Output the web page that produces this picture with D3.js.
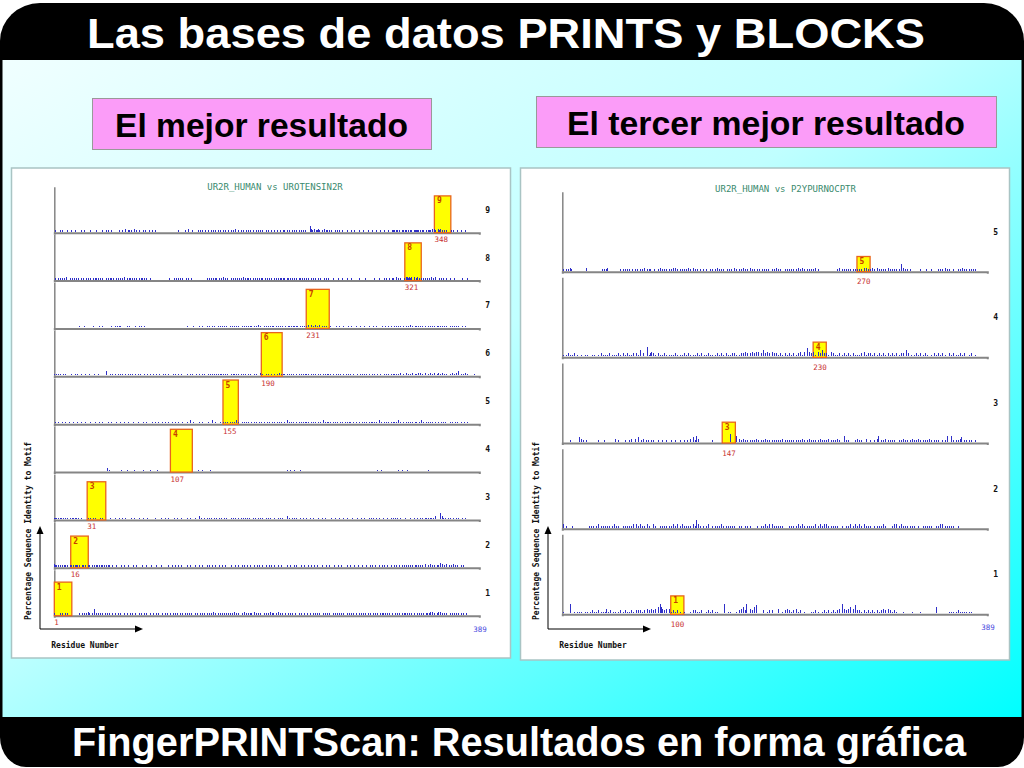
<!DOCTYPE html>
<html>
<head>
<meta charset="utf-8">
<script src="https://cdnjs.cloudflare.com/ajax/libs/d3/7.8.5/d3.min.js"></script>
<style>
  html, body { margin: 0; padding: 0; background: #fff; }
  svg { display: block; }
</style>
</head>
<body>
<svg id="slide" width="1024" height="768"></svg>
<script>
// ---- data ----
const seqLength = 389;

// best result: UR2R_HUMAN vs UROTENSIN2R (motif 1..9)
const leftMotifs  = [1, 2, 3, 4, 5, 6, 7, 8, 9];
const leftStarts  = [1, 16, 31, 107, 155, 190, 231, 321, 348];
const leftLengths = [16, 16, 17, 20, 14, 19, 21, 15, 15];
const leftScores  = [73, 69, 83, 93, 96, 95, 85, 82, 80];

// third best: UR2R_HUMAN vs P2YPURNOCPTR (motif 1..5, motif 2 not found)
const rightMotifs  = [1, 2, 3, 4, 5];
const rightStarts  = [100, null, 147, 230, 270];
const rightLengths = [12, null, 12, 12, 12];
const rightScores  = [23, null, 26, 19, 19];

// background identity per residue, one digit per residue, rows 1..n
// % identity = digit * step
const leftNoiseStep = 3;
const leftNoise = [
  `1000010100 1010000000 0001010101 0210104010 1010101010 1001010010 1000101001 0100100101 0010100100 1001010010
   0101001010 1010010101 0101010010 1001010101 0101020101 0101010101 1010201010 0102010101 1020101010 0101010201
   1010201010 0101010100 1001010010 0101001010 1010010101 0100101010 1010100101 0101010010 1010101010 0101010101
   1010101010 0101010101 1010101010 0101010101 1012020101 2020101010 0101010101 0101001000 000000000`,
  `2111010101 1010110101 1101011010 0110101011 0101110101 1001001000 0100100100 0010010000 1000100010 0001000100
   0000100100 1001001000 0100100010 0010010001 0100100100 1001001000 0100010010 0101001001 0010010100 1001001010
   0100100100 0010010001 0100010010 0010100100 1000100010 0100010001 0010000100 1000100100 0100010010 1001001001
   0100100100 1010010101 0101010101 1010101020 0102010101 1030201020 1010201010 0101000000 000000000`,
  `1111011010 1010101101 1010100000 0101010100 0010100000 0100010001 0010010000 1001000100 0100010000 0010000100
   0100100001 0010001000 0100100010 0020100101 0101001010 1010010100 0101010010 1010101010 0101001010 1001010100
   0100101010 0020100101 0100100100 1001001000 0100100100 0001001000 1000100100 0010001000 1001000101 0100101000
   1000100101 0101001000 1000010010 0100101011 0101101020 0040210101 0100100101 0010010000 000000000`,
  `0000000000 0000000000 0000000000 0000000000 0000000020 1000000000 0100001000 0001000000 0100000100 0000100000
   0000000000 0000000000 0000000000 0100010000 0010000000 0000000000 0000000000 0000000000 0000000000 0000000000
   0000000000 0010010001 0000100000 0000000000 0000000000 0000000000 0000000000 0000000000 0000000000 0000010010
   0000000000 0000100100 0010000000 0000000000 0100000000 0000000000 0000000000 0000000000 000000000`,
  `0101000100 1001000100 0100100010 0001000100 0100100001 0010001000 1000100100 0010001000 0100100001 0010010010
   0100100100 1001000100 0100200100 0010010000 1000200100 0100101010 1010102010 0101010100 1010100101 0100101001
   0101010100 1020101010 0101010101 1010101010 0101020101 1010101010 0101010101 1001010010 0101010101 1010102010
   0101010101 1010201010 0101010101 1001020101 0101010010 1001010100 0101001010 0100100100 000000000`,
  `1011010010 1000010001 0100100010 0010001000 1000000300 0101010010 1010010101 0100101010 0010010100 1001001001
   0100100010 1001001000 0100101001 0010010100 1010101011 0110101010 0101101010 1010100101 0010100020 1001010010
   0101020101 1010101010 0101010101 1010101010 0101010101 1010100101 0100101010 1001001001 0101010100 1010010100
   0101010101 1010102010 0201010201 1020201020 0102010201 2010201010 0102010203 0101020100 000100000`,
  `0000000000 0000000000 0001000100 0000010000 0100100000 0010010101 1000001010 0000100101 0010000000 0000000000
   0000000000 0000000000 0100000100 0010010001 0100101001 0101010100 1010101010 0101010101 1010102010 0101010101
   1010101010 0101101011 0110101010 1020201020 1020101010 0010000100 1000100010 0100010001 0001000100 0100100001
   0010010100 1010101010 0101020101 1010101010 0101010101 1010101010 0101010101 0010010000 000000000`,
  `0101010101 0200101010 1010101001 0101010110 1010100101 0110101010 1010201011 0101010101 1010100100 0000000000
   0000010001 0101010100 1010010000 0000000001 0101010110 1010201010 0101010101 1020101101 0101010101 1010101010
   0110101101 1011010101 0101101010 1010101010 0101001010 1000100001 0001000100 0100000010 0000100000 0010001000
   0101001011 0020101001 0221212020 1201010110 1010201020 0101010010 0100010000 0010000100 000000000`,
  `0100010100 0010010001 0000100100 0001000010 0000100101 0010000001 0010020110 1002010100 0101001001 0010000000
   0000000000 0001000001 0020001000 0101010010 1001010101 0100101001 0101020010 1010010101 0100101010 1001010010
   0101001001 1010100101 0101010101 0004210201 1210102011 0101001010 1001000100 0100100010 0010001000 1000100100
   0100010011 1011010110 1101011011 1110101101 0111020210 2120101010 0010100010 0100010000 000000000`
];

const rightNoiseStep = 2;
const rightNoise = [
  `0100000600 0101010100 0101010201 0102010101 3010201010 0102010201 0102010202 0201020302 0302030406 4302030301
   0201020100 0100000102 0201010200 0102010201 0100000060 0101000001 0203040260 0302040500 0002000102 0200000300
   0102030201 0203010200 0100000101 0201000102 0102010201 0203060302 0304030502 0201020102 0102010201 0203020302
   0102010000 0100000001 0000000100 0000000000 0400000000 0001010101 0201010101 0101000000 000000000`,
  `0201000001 0000000000 0000101010 0102010101 0101010201 0100010101 0101020201 0201010201 0002010001 0101010101
   0201020102 0101010102 0150201010 0102000101 0101020101 0101010100 0101000101 0100000010 0101020102 0201010101
   0100000101 0101020102 0101010101 0201020102 0201010101 0100010001 0102010201 0201020101 0100010101 0102010000
   0102020102 0101010101 0100010001 0101010100 0101020201 0101010100 0100000000 0000000000 000000000`,
  `0000000100 0000030201 0010000000 0001000010 0000000020 0100000100 0102002003 0010201010 0101000100 0100010001
   0001000100 0100100203 0140200000 0000000100 0000000000 0005000004 0201020101 0101010201 0101020101 0101010101
   0201010101 0101010102 0101020101 0101020101 0102010101 0201000401 0100000102 0101000200 0100010240 0101020101
   0101000101 0201010102 0101020101 0101020101 0101000101 0400040101 0102300101 0101000100 000000000`,
  `0101020101 0201000100 0101000101 0001020101 0102010101 0201020102 0101020201 0400200601 2302010201 0102010101
   0102010101 0201020101 0102010201 0102010101 0201020102 0101020201 0102020302 0203020303 0204020302 0302020102
   0102010201 0201020301 0305030203 0103020402 0201030201 0102010201 0201020101 0102030102 0201020102 0102010201
   0201020102 0200402010 0102010201 0201000102 0102010201 0002010201 0102010200 0102000100 000000000`,
  `0101010210 0000000000 0020000000 0000001010 1200000000 0001010101 0100101010 0101020101 1000100102 0101010101
   0202010101 0101020102 0101001010 0100010101 0201010100 1010100201 0101020101 0201010010 1010101010 0101020101
   0001010101 0101020102 0101010101 0201000000 0000000000 0102010101 0101010101 0101020201 0102010201 0101010201
   0101010104 0201010100 0000000100 0010000100 0001010102 0101000100 0101020101 0101010100 000000000`
];

const parseNoise = s => s.replace(/\s+/g, '').split('').slice(0, seqLength).map(Number);

// ---- slide frame ----
const svg = d3.select('#slide');
const defs = svg.append('defs');
const grad = defs.append('linearGradient')
    .attr('id', 'bg').attr('x1', 0).attr('y1', 0).attr('x2', 1).attr('y2', 1);
grad.append('stop').attr('offset', 0).attr('stop-color', '#f0ffff');
grad.append('stop').attr('offset', 0.45).attr('stop-color', '#c0ffff');
grad.append('stop').attr('offset', 1).attr('stop-color', '#00ffff');

// black frame: rounder corners at the top than at the bottom
svg.append('rect')
    .attr('x', 0).attr('y', 3).attr('width', 1024).attr('height', 700)
    .attr('rx', 40).attr('ry', 38)
    .attr('fill', '#000');
svg.append('rect')
    .attr('x', 0).attr('y', 100).attr('width', 1024).attr('height', 667)
    .attr('rx', 26).attr('ry', 30)
    .attr('fill', '#000');

svg.append('rect')
    .attr('x', 2.5).attr('y', 60).attr('width', 1019).attr('height', 657)
    .attr('fill', 'url(#bg)');

svg.append('text')
    .attr('x', 87).attr('y', 48)
    .attr('textLength', 838).attr('lengthAdjust', 'spacingAndGlyphs')
    .attr('font-family', 'Liberation Sans, Arial, sans-serif')
    .attr('font-weight', 'bold').attr('font-size', 43)
    .attr('fill', '#fff')
    .text('Las bases de datos PRINTS y BLOCKS');

svg.append('text')
    .attr('x', 72).attr('y', 756)
    .attr('textLength', 894).attr('lengthAdjust', 'spacingAndGlyphs')
    .attr('font-family', 'Liberation Sans, Arial, sans-serif')
    .attr('font-weight', 'bold').attr('font-size', 40)
    .attr('fill', '#fff')
    .text('FingerPRINTScan: Resultados en forma gráfica');

// pink caption boxes
const captions = [
  {x: 92.5, y: 98.5, w: 339, h: 51, tx: 115, tl: 293, text: 'El mejor resultado'},
  {x: 536.5, y: 96.5, w: 460, h: 51, tx: 567, tl: 398, text: 'El tercer mejor resultado'}
];
captions.forEach(c => {
  svg.append('rect')
      .attr('x', c.x).attr('y', c.y).attr('width', c.w).attr('height', c.h)
      .attr('fill', '#fb9cf8').attr('stroke', '#999').attr('stroke-width', 1);
  svg.append('text')
      .attr('x', c.tx).attr('y', c.y + 38.5)
      .attr('textLength', c.tl).attr('lengthAdjust', 'spacingAndGlyphs')
      .attr('font-family', 'Liberation Sans, Arial, sans-serif')
      .attr('font-weight', 'bold').attr('font-size', 33)
      .attr('fill', '#000')
      .text(c.text);
});

// ---- one fingerprint graph ----
function drawPanel(cfg) {
  const g = svg.append('g');

  g.append('rect')
      .attr('x', cfg.px).attr('y', cfg.py).attr('width', cfg.pw).attr('height', cfg.ph)
      .attr('fill', '#fff').attr('stroke', '#a9c4c4').attr('stroke-width', 1.5);

  const mono = 'DejaVu Sans Mono, monospace';
  const x = d3.scaleLinear().domain([1, seqLength]).range([cfg.x0, cfg.x1]);
  const rowY = d3.scaleLinear().domain([1, cfg.motifs.length]).range([cfg.base1, cfg.baseN]);

  g.append('text')
      .attr('x', cfg.titleX).attr('y', cfg.titleY)
      .attr('text-anchor', 'middle')
      .attr('font-family', mono).attr('font-size', 9)
      .attr('fill', '#3a8a6e')
      .text(cfg.title);

  cfg.motifs.forEach((m, i) => {
    const base = rowY(m);
    const y = d3.scaleLinear().domain([0, 100]).range([base, base - cfg.rowH]);
    const row = g.append('g');

    // axes
    row.append('g')
        .attr('transform', 'translate(0,' + base + ')')
        .call(d3.axisBottom(x).tickValues([]).tickSizeOuter(2))
        .call(a => a.select('.domain').attr('stroke', '#858585').attr('stroke-width', 2));
    row.append('g')
        .attr('transform', 'translate(' + cfg.x0 + ',0)')
        .call(d3.axisLeft(y).tickValues([]).tickSizeOuter(0))
        .call(a => a.select('.domain').attr('stroke', '#858585').attr('stroke-width', 1.5));

    // motif match box
    if (cfg.starts[i] != null) {
      const bx = x(cfg.starts[i]);
      const bw = x(cfg.starts[i] + cfg.lengths[i]) - bx;
      row.append('rect')
          .attr('x', bx).attr('y', y(cfg.scores[i]))
          .attr('width', bw).attr('height', base - y(cfg.scores[i]))
          .attr('fill', '#ffff00').attr('stroke', '#e8641e').attr('stroke-width', 1.3);
      row.append('text')
          .attr('x', bx + 2.5).attr('y', y(cfg.scores[i]) + 7.5)
          .attr('font-family', mono).attr('font-weight', 'bold').attr('font-size', 8)
          .attr('fill', '#c83c00')
          .text(m);
      row.append('text')
          .attr('x', bx).attr('y', base + cfg.labelDy)
          .attr('font-family', mono).attr('font-size', 7.5)
          .attr('fill', '#c83232')
          .text(cfg.starts[i]);
    }

    // background identity spikes, drawn on top of the baseline
    const vals = parseNoise(cfg.noise[i]);
    row.selectAll('line.spike')
        .data(vals.map((v, r) => ({r: r + 1, v: v * cfg.noiseStep})).filter(d => d.v > 0))
        .join('line')
        .attr('class', 'spike')
        .attr('x1', d => Math.round(x(d.r)) + 0.5).attr('x2', d => Math.round(x(d.r)) + 0.5)
        .attr('y1', base - 1).attr('y2', d => y(d.v) - 1)
        .attr('stroke', '#2f2fc8').attr('stroke-width', 1)
        .attr('shape-rendering', 'crispEdges');

    // motif number at the right
    row.append('text')
        .attr('x', cfg.x1 + 6).attr('y', base - cfg.rowH / 2 + 3)
        .attr('font-family', mono).attr('font-weight', 'bold').attr('font-size', 8)
        .attr('fill', '#111')
        .text(m);
  });

  // sequence length label
  g.append('text')
      .attr('x', cfg.x1 - 6).attr('y', cfg.base1 + 16)
      .attr('font-family', mono).attr('font-size', 7.5)
      .attr('fill', '#4a4ae0')
      .text(seqLength);

  // axis arrows
  const ax = cfg.arrowX, ay = 629;
  g.append('line').attr('x1', ax).attr('y1', ay).attr('x2', ax).attr('y2', 533)
      .attr('stroke', '#000').attr('stroke-width', 1);
  g.append('path').attr('d', d3.line()([[ax - 3.5, 534], [ax + 3.5, 534], [ax, 526]]))
      .attr('fill', '#000');
  g.append('line').attr('x1', ax).attr('y1', ay).attr('x2', ax + 95).attr('y2', ay)
      .attr('stroke', '#000').attr('stroke-width', 1);
  g.append('path').attr('d', d3.line()([[ax + 95, ay - 3.5], [ax + 95, ay + 3.5], [ax + 103, ay]]))
      .attr('fill', '#000');

  g.append('text')
      .attr('transform', 'translate(' + (cfg.arrowX - 9) + ',531) rotate(-90)')
      .attr('text-anchor', 'middle')
      .attr('font-family', mono).attr('font-weight', 'bold').attr('font-size', 8)
      .attr('fill', '#111')
      .text('Percentage Sequence Identity to Motif');

  g.append('text')
      .attr('x', cfg.x0 - 3).attr('y', 648)
      .attr('font-family', mono).attr('font-weight', 'bold').attr('font-size', 8)
      .attr('fill', '#111')
      .text('Residue Number');
}

drawPanel({
  px: 11.5, py: 168, pw: 499, ph: 490,
  x0: 54.3, x1: 479.3, base1: 615.7, baseN: 232.7, rowH: 46,
  titleX: 275, titleY: 190, title: 'UR2R_HUMAN vs UROTENSIN2R',
  arrowX: 40, labelDy: 9.5, noiseStep: leftNoiseStep,
  motifs: leftMotifs, starts: leftStarts, lengths: leftLengths, scores: leftScores, noise: leftNoise
});

drawPanel({
  px: 520.5, py: 168, pw: 489, ph: 492,
  x0: 562.3, x1: 987.3, base1: 614.3, baseN: 271.7, rowH: 80,
  titleX: 785.5, titleY: 192, title: 'UR2R_HUMAN vs P2YPURNOCPTR',
  arrowX: 548, labelDy: 12.5, noiseStep: rightNoiseStep,
  motifs: rightMotifs, starts: rightStarts, lengths: rightLengths, scores: rightScores, noise: rightNoise
});
</script>
</body>
</html>
